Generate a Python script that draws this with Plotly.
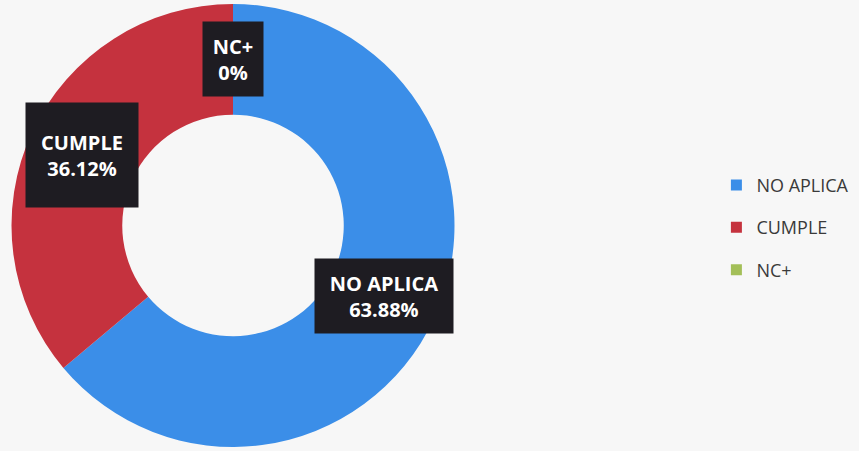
import math
import plotly.graph_objects as go

W, H = 859, 451

LABELS = ["NO APLICA", "CUMPLE", "NC+"]
VALUES = [63.88, 36.12, 0.0]
PCT_TEXT = ["63.88%", "36.12%", "0%"]
COLORS = ["#3b8ee8", "#c5323e", "#a3bf58"]

# label box sizes (px) as in the source
BOX_W = [138, 112, 60]
BOX_H = [74, 104, 74]

DOM_X = [11 / W, 455 / W]
DOM_Y = [4 / H, 447 / H]
HOLE = 0.5
FONT = "Open Sans, Noto Sans, DejaVu Sans, sans-serif"

fig = go.Figure()
fig.add_trace(go.Pie(
    labels=LABELS, values=VALUES, hole=HOLE, sort=False,
    direction="clockwise", rotation=0, textinfo="none",
    marker=dict(colors=COLORS, line=dict(width=0)),
    domain=dict(x=DOM_X, y=DOM_Y), showlegend=False, hoverinfo="label+percent"))

# legend entries (separate traces so the entries can be spaced out)
for lab, col in zip(LABELS, COLORS):
    fig.add_trace(go.Scatter(
        x=[None], y=[None], mode="markers", name=lab, legendgroup=lab,
        marker=dict(symbol="square", size=11, color=col)))

# data labels at ring mid-radius, centre of each slice
cx = sum(DOM_X) / 2 * W
cy = (1 - sum(DOM_Y) / 2) * H
r_out = min((DOM_X[1] - DOM_X[0]) * W, (DOM_Y[1] - DOM_Y[0]) * H) / 2
r_mid = r_out * (1 + HOLE) / 2
total = sum(VALUES)
cum = 0.0
for lab, v, pt, bw, bh in zip(LABELS, VALUES, PCT_TEXT, BOX_W, BOX_H):
    theta = 2 * math.pi * (cum + v / 2) / total
    cum += v
    px = cx + r_mid * math.sin(theta)
    py = cy - r_mid * math.cos(theta)
    fig.add_annotation(
        x=px / W, y=1 - py / H, xref="paper", yref="paper",
        xanchor="center", yanchor="middle",
        text=f"<b>{lab}<br>{pt}</b>", showarrow=False,
        width=bw, height=bh, bgcolor="#1e1c22", borderpad=0,
        align="center", valign="middle",
        font=dict(family=FONT, size=20, color="white"))

fig.update_layout(
    width=W, height=H,
    paper_bgcolor="#f7f7f7", plot_bgcolor="#f7f7f7",
    margin=dict(l=0, r=0, t=0, b=0),
    xaxis=dict(visible=False), yaxis=dict(visible=False),
    font=dict(family=FONT, color="#3a3a3a"),
    legend=dict(x=0.834, y=0.495, xanchor="left", yanchor="middle",
                font=dict(size=18, color="#3a3a3a"),
                tracegroupgap=16, itemwidth=30, bgcolor="rgba(0,0,0,0)"),
)

fig.write_html("out.html", config={"displayModeBar": False},
               post_script="document.body.style.margin='0';"
                           "document.body.style.overflow='hidden';")
